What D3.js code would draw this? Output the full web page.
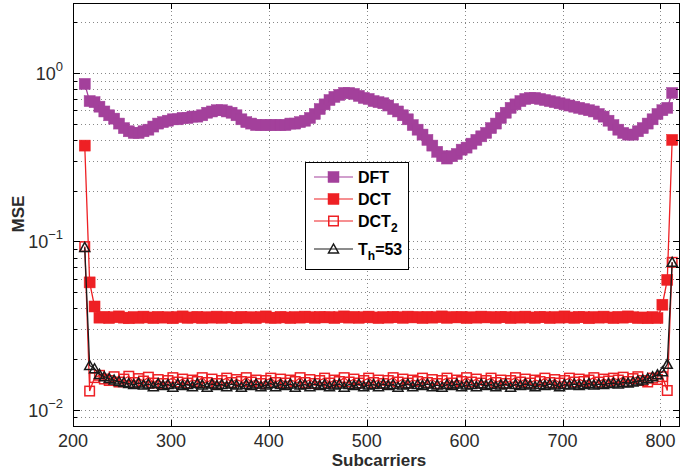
<!DOCTYPE html>
<html>
<head>
<meta charset="utf-8">
<script src="https://cdn.jsdelivr.net/npm/d3@7"></script>
<style>
  body { margin: 0; background: #fff; }
  svg { display: block; font-family: "Liberation Sans", Arial, sans-serif; }
</style>
</head>
<body>
<svg id="chart" width="681" height="474"></svg>
<script>
// subcarrier index of every sample (212, 217, ... 812)
var subcarriers = d3.range(212, 813, 5)

var dft = [
  0.86, 0.68, 0.67, 0.63, 0.59, 0.56, 0.535, 0.50, 0.47, 0.45,
  0.44, 0.44, 0.45, 0.46, 0.48, 0.50, 0.51, 0.52, 0.53, 0.53,
  0.54, 0.54, 0.55, 0.55, 0.56, 0.58, 0.59, 0.60, 0.60, 0.59,
  0.58, 0.56, 0.53, 0.51, 0.50, 0.49, 0.49, 0.49, 0.49, 0.49,
  0.49, 0.49, 0.50, 0.50, 0.51, 0.52, 0.54, 0.57, 0.61, 0.65,
  0.69, 0.72, 0.74, 0.76, 0.76, 0.75, 0.73, 0.71, 0.70, 0.68,
  0.67, 0.66, 0.64, 0.61, 0.59, 0.56, 0.53, 0.49, 0.46, 0.43,
  0.40, 0.37, 0.34, 0.32, 0.31, 0.32, 0.33, 0.35, 0.36, 0.38,
  0.40, 0.42, 0.44, 0.47, 0.50, 0.54, 0.58, 0.62, 0.65, 0.68,
  0.70, 0.71, 0.71, 0.70, 0.69, 0.68, 0.67, 0.66, 0.65, 0.64,
  0.63, 0.62, 0.61, 0.60, 0.59, 0.57, 0.55, 0.52, 0.49, 0.46,
  0.44, 0.43, 0.43, 0.45, 0.47, 0.50, 0.53, 0.57, 0.60, 0.62,
  0.76
]

var dct = [
  0.37, 0.057, 0.041, 0.0352, 0.0356, 0.0350, 0.0354, 0.0358, 0.0352, 0.0349,
  0.0355, 0.0351, 0.0357, 0.0353, 0.0350, 0.0356, 0.0352, 0.0354, 0.0349, 0.0355,
  0.0358, 0.0351, 0.0353, 0.0356, 0.0350, 0.0354, 0.0352, 0.0357, 0.0351, 0.0355,
  0.0353, 0.0349, 0.0356, 0.0352, 0.0354, 0.0350, 0.0355, 0.0358, 0.0352, 0.0351,
  0.0356, 0.0353, 0.0350, 0.0355, 0.0352, 0.0357, 0.0354, 0.0351, 0.0356, 0.0353,
  0.0355, 0.0350, 0.0354, 0.0358, 0.0352, 0.0356, 0.0351, 0.0354, 0.0357, 0.0353,
  0.0350, 0.0355, 0.0352, 0.0356, 0.0354, 0.0351, 0.0357, 0.0353, 0.0355, 0.0350,
  0.0356, 0.0352, 0.0354, 0.0358, 0.0351, 0.0355, 0.0353, 0.0356, 0.0350, 0.0354,
  0.0352, 0.0357, 0.0353, 0.0355, 0.0351, 0.0356, 0.0354, 0.0350, 0.0355, 0.0352,
  0.0357, 0.0353, 0.0351, 0.0356, 0.0354, 0.0350, 0.0355, 0.0352, 0.0358, 0.0353,
  0.0351, 0.0356, 0.0354, 0.0349, 0.0355, 0.0352, 0.0357, 0.0353, 0.0350, 0.0356,
  0.0352, 0.0358, 0.0354, 0.0350, 0.0353, 0.0349, 0.0355, 0.0350, 0.042, 0.059,
  0.40
]

var dct2 = [
  0.093, 0.0129, 0.0155, 0.0160, 0.0152, 0.0149, 0.0157, 0.0146, 0.0152, 0.0158,
  0.0145, 0.0153, 0.0148, 0.0156, 0.0144, 0.0151, 0.0143, 0.0149, 0.0155, 0.0146,
  0.0152, 0.0144, 0.0150, 0.0147, 0.0155, 0.0145, 0.0152, 0.0143, 0.0149, 0.0154,
  0.0145, 0.0151, 0.0147, 0.0155, 0.0146, 0.0150, 0.0143, 0.0149, 0.0154, 0.0145,
  0.0152, 0.0144, 0.0150, 0.0147, 0.0155, 0.0145, 0.0151, 0.0143, 0.0149, 0.0154,
  0.0144, 0.0150, 0.0147, 0.0155, 0.0146, 0.0152, 0.0144, 0.0149, 0.0154, 0.0145,
  0.0150, 0.0143, 0.0149, 0.0155, 0.0146, 0.0152, 0.0144, 0.0150, 0.0147, 0.0154,
  0.0145, 0.0151, 0.0143, 0.0149, 0.0154, 0.0144, 0.0150, 0.0147, 0.0155, 0.0146,
  0.0152, 0.0144, 0.0149, 0.0154, 0.0145, 0.0150, 0.0143, 0.0149, 0.0155, 0.0146,
  0.0152, 0.0144, 0.0150, 0.0147, 0.0154, 0.0145, 0.0151, 0.0144, 0.0149, 0.0154,
  0.0146, 0.0152, 0.0147, 0.0150, 0.0155, 0.0146, 0.0152, 0.0148, 0.0154, 0.0150,
  0.0156, 0.0147, 0.0153, 0.0157, 0.0149, 0.0146, 0.0154, 0.0151, 0.0157, 0.0130,
  0.075
]

var th53 = [
  0.092, 0.0183, 0.0175, 0.0162, 0.0157, 0.0153, 0.0150, 0.0147, 0.0145, 0.0143,
  0.0141, 0.0144, 0.0140, 0.0142, 0.0137, 0.0143, 0.0139, 0.0141, 0.0136, 0.0142,
  0.0139, 0.0141, 0.0137, 0.0143, 0.0140, 0.0136, 0.0142, 0.0139, 0.0141, 0.0137,
  0.0142, 0.0140, 0.0136, 0.0141, 0.0139, 0.0142, 0.0137, 0.0140, 0.0143, 0.0137,
  0.0141, 0.0139, 0.0142, 0.0136, 0.0140, 0.0141, 0.0137, 0.0142, 0.0139, 0.0141,
  0.0137, 0.0140, 0.0142, 0.0136, 0.0141, 0.0139, 0.0142, 0.0137, 0.0140, 0.0141,
  0.0137, 0.0142, 0.0139, 0.0141, 0.0136, 0.0140, 0.0142, 0.0137, 0.0141, 0.0139,
  0.0142, 0.0137, 0.0140, 0.0136, 0.0141, 0.0139, 0.0142, 0.0137, 0.0140, 0.0141,
  0.0137, 0.0142, 0.0139, 0.0141, 0.0137, 0.0140, 0.0142, 0.0136, 0.0141, 0.0139,
  0.0142, 0.0140, 0.0137, 0.0141, 0.0139, 0.0142, 0.0140, 0.0137, 0.0141, 0.0140,
  0.0142, 0.0139, 0.0141, 0.0143, 0.0140, 0.0142, 0.0141, 0.0143, 0.0144, 0.0142,
  0.0145, 0.0144, 0.0146, 0.0148, 0.0150, 0.0153, 0.0157, 0.0161, 0.0168, 0.0186,
  0.075
]

var xTicks = [200, 300, 400, 500, 600, 700, 800]
var yDecades = [0.01, 0.1, 1]
var yDecadeLabels = ["\u22122", "\u22121", "0"]

var purple = "#a3409b", red = "#ee2024", black = "#1a1a1a"

var series = [
  {name: "DFT", values: dft, color: purple, marker: "sq", fill: purple, size: 11},
  {name: "DCT", values: dct, color: red, marker: "sq", fill: red, size: 11},
  {name: "DCT2", values: dct2, color: red, marker: "sq", fill: "none", size: 9.5},
  {name: "Th", values: th53, color: black, marker: "tri", fill: "none", size: 10}
]

var svg = d3.select("#chart")
var plotL = 73, plotR = 680, plotT = 3, plotB = 426

var x = d3.scaleLinear().domain([200, 820]).range([plotL, plotR])
var y = d3.scaleLog().domain([0.008, 2.6]).range([plotB, plotT])

// all minor grid values inside the domain
var yMinor = []
;[0.001, 0.01, 0.1, 1].forEach(function(d) {
  for (var k = 1; k < 10; k++) {
    var v = +(d * k).toPrecision(3)
    if (v >= 0.008 && v <= 2.6) yMinor.push(v)
  }
})

// grid
var grid = svg.append("g").attr("stroke", "#888").attr("stroke-width", 1).attr("stroke-dasharray", "1,3")
grid.selectAll("line.gx").data(xTicks.slice(1)).enter().append("line")
  .attr("x1", d => Math.round(x(d)) + 0.5).attr("x2", d => Math.round(x(d)) + 0.5)
  .attr("y1", plotT).attr("y2", plotB)
grid.selectAll("line.gy").data(yMinor).enter().append("line")
  .attr("y1", d => Math.round(y(d)) + 0.5).attr("y2", d => Math.round(y(d)) + 0.5)
  .attr("x1", plotL).attr("x2", plotR)

// series
var plot = svg.append("g")
series.forEach(function(s) {
  var pts = subcarriers.map((c, i) => [c, s.values[i]])
  plot.append("path")
    .datum(pts)
    .attr("fill", "none")
    .attr("stroke", s.color)
    .attr("stroke-width", 1.3)
    .attr("d", d3.line().x(d => x(d[0])).y(d => y(d[1])))
  drawMarkers(plot, pts.map(d => [x(d[0]), y(d[1])]), s)
})

function drawMarkers(g, coords, s) {
  var h = s.size / 2
  if (s.marker == "sq") {
    g.selectAll(null).data(coords).enter().append("rect")
      .attr("x", d => d[0] - h).attr("y", d => d[1] - h)
      .attr("width", s.size).attr("height", s.size)
      .attr("fill", s.fill)
      .attr("stroke", s.color)
      .attr("stroke-width", s.fill == "none" ? 1.5 : 0.5)
  } else {
    g.selectAll(null).data(coords).enter().append("path")
      .attr("d", d => "M" + (d[0] - h) + "," + (d[1] + h * 0.8) + "L" + (d[0] + h) + "," + (d[1] + h * 0.8) + "L" + d[0] + "," + (d[1] - h) + "Z")
      .attr("fill", "none")
      .attr("stroke", s.color)
      .attr("stroke-width", 1.5)
  }
}

// axes box and ticks
var axis = svg.append("g").attr("stroke", "#000").attr("stroke-width", 1)
axis.append("rect").attr("x", plotL + 0.5).attr("y", plotT + 0.5)
  .attr("width", plotR - plotL - 1).attr("height", plotB - plotT).attr("fill", "none")
xTicks.forEach(function(t) {
  var px = Math.round(x(t)) + 0.5
  axis.append("line").attr("x1", px).attr("x2", px).attr("y1", plotB).attr("y2", plotB - 6)
  axis.append("line").attr("x1", px).attr("x2", px).attr("y1", plotT).attr("y2", plotT + 6)
})
yMinor.forEach(function(v) {
  var py = Math.round(y(v)) + 0.5
  var len = yDecades.indexOf(v) >= 0 ? 7 : 4
  axis.append("line").attr("x1", plotL).attr("x2", plotL + len).attr("y1", py).attr("y2", py)
  axis.append("line").attr("x1", plotR).attr("x2", plotR - len).attr("y1", py).attr("y2", py)
})

// tick labels
var labels = svg.append("g").attr("fill", "#2b2b2b").attr("font-size", 18)
xTicks.forEach(function(t) {
  labels.append("text").attr("x", x(t)).attr("y", 447).attr("text-anchor", "middle").text(t)
})
yDecades.forEach(function(v, i) {
  var t = labels.append("text").attr("x", 63).attr("y", y(v) + 7).attr("text-anchor", "end")
  t.append("tspan").text("10")
  t.append("tspan").attr("dy", -9).attr("font-size", 13).text(yDecadeLabels[i])
})

svg.append("text").attr("x", 379).attr("y", 466).attr("text-anchor", "middle")
  .attr("font-size", 17).attr("font-weight", "bold").attr("fill", "#2b2b2b").text("Subcarriers")
svg.append("text").attr("transform", "translate(24,214) rotate(-90)").attr("text-anchor", "middle")
  .attr("font-size", 17).attr("font-weight", "bold").attr("fill", "#2b2b2b").text("MSE")

// legend
var lg = svg.append("g")
lg.append("rect").attr("x", 305.5).attr("y", 162.5).attr("width", 103).attr("height", 107)
  .attr("fill", "#fff").attr("stroke", "#000").attr("stroke-width", 1)
var rowsY = [177, 199, 221, 249]
series.forEach(function(s, i) {
  var ry = rowsY[i]
  lg.append("line").attr("x1", 314).attr("x2", 353).attr("y1", ry).attr("y2", ry)
    .attr("stroke", s.color).attr("stroke-width", 1.2)
  drawMarkers(lg, [[333.5, ry]], s)
  var t = lg.append("text").attr("x", 358).attr("y", ry + 6)
    .attr("font-size", 16).attr("font-weight", "bold").attr("fill", "#000")
  if (s.name == "DCT2") {
    t.append("tspan").text("DCT")
    t.append("tspan").attr("dy", 5).attr("font-size", 12).text("2")
  } else if (s.name == "Th") {
    t.append("tspan").text("T")
    t.append("tspan").attr("dy", 5).attr("font-size", 12).text("h")
    t.append("tspan").attr("dy", -5).text("=53")
  } else {
    t.text(s.name)
  }
})
</script>
</body>
</html>
